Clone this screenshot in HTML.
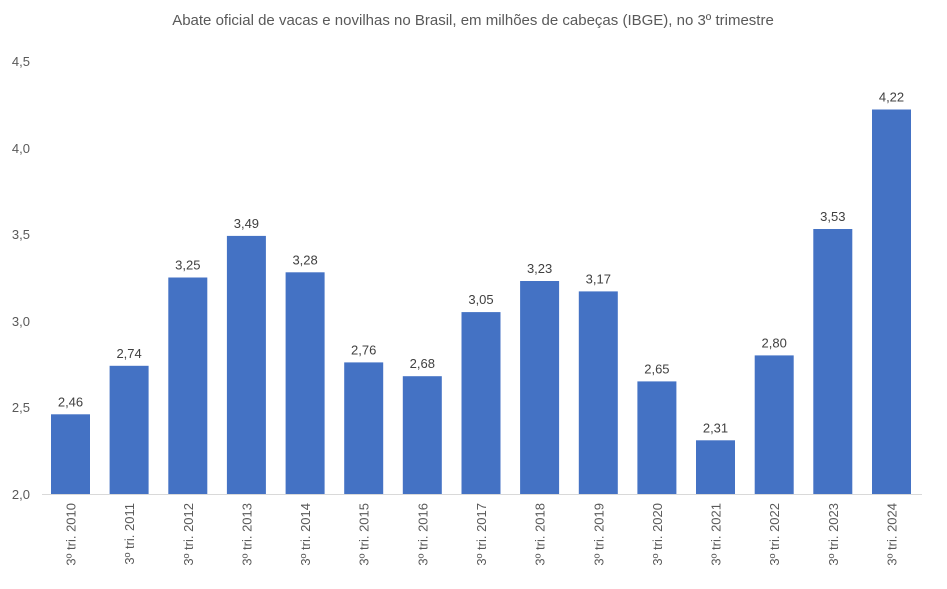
<!DOCTYPE html>
<html><head><meta charset="utf-8"><style>body{margin:0;background:#fff}svg{display:block;font-family:"Liberation Sans",sans-serif}</style></head><body>
<svg width="947" height="589" xmlns="http://www.w3.org/2000/svg">
<rect width="947" height="589" fill="#fff"/>
<text x="473" y="25" text-anchor="middle" font-size="15" fill="#595959">Abate oficial de vacas e novilhas no Brasil, em milhões de cabeças (IBGE), no 3º trimestre</text>
<g font-size="13" fill="#595959" text-anchor="end">
<text x="30" y="499">2,0</text><text x="30" y="412">2,5</text><text x="30" y="326">3,0</text><text x="30" y="239">3,5</text><text x="30" y="153">4,0</text><text x="30" y="66">4,5</text>
</g>
<g fill="#4472C4">
<rect x="51" y="414.3" width="39" height="79.7"/>
<rect x="109.6" y="365.8" width="39" height="128.2"/>
<rect x="168.3" y="277.5" width="39" height="216.5"/>
<rect x="226.9" y="235.9" width="39" height="258.1"/>
<rect x="285.6" y="272.3" width="39" height="221.7"/>
<rect x="344.2" y="362.4" width="39" height="131.6"/>
<rect x="402.8" y="376.2" width="39" height="117.8"/>
<rect x="461.5" y="312.1" width="39" height="181.9"/>
<rect x="520.1" y="281" width="39" height="213"/>
<rect x="578.8" y="291.4" width="39" height="202.6"/>
<rect x="637.4" y="381.4" width="39" height="112.6"/>
<rect x="696" y="440.3" width="39" height="53.7"/>
<rect x="754.7" y="355.4" width="39" height="138.6"/>
<rect x="813.3" y="229" width="39" height="265"/>
<rect x="872" y="109.5" width="39" height="384.5"/>
</g>
<g font-size="13" fill="#404040" text-anchor="middle">
<text x="70.5" y="406.3">2,46</text>
<text x="129.1" y="357.8">2,74</text>
<text x="187.8" y="269.5">3,25</text>
<text x="246.4" y="227.9">3,49</text>
<text x="305.1" y="264.3">3,28</text>
<text x="363.7" y="354.4">2,76</text>
<text x="422.3" y="368.2">2,68</text>
<text x="481" y="304.1">3,05</text>
<text x="539.6" y="273">3,23</text>
<text x="598.3" y="283.4">3,17</text>
<text x="656.9" y="373.4">2,65</text>
<text x="715.5" y="432.3">2,31</text>
<text x="774.2" y="347.4">2,80</text>
<text x="832.8" y="221">3,53</text>
<text x="891.5" y="101.5">4,22</text>
</g>
<g font-size="13" fill="#595959" text-anchor="end">
<text transform="translate(75.5,503) rotate(-90)">3º tri. 2010</text>
<text transform="translate(134.1,503) rotate(-90)">3º tri. 2011</text>
<text transform="translate(192.8,503) rotate(-90)">3º tri. 2012</text>
<text transform="translate(251.4,503) rotate(-90)">3º tri. 2013</text>
<text transform="translate(310.1,503) rotate(-90)">3º tri. 2014</text>
<text transform="translate(368.7,503) rotate(-90)">3º tri. 2015</text>
<text transform="translate(427.3,503) rotate(-90)">3º tri. 2016</text>
<text transform="translate(486,503) rotate(-90)">3º tri. 2017</text>
<text transform="translate(544.6,503) rotate(-90)">3º tri. 2018</text>
<text transform="translate(603.3,503) rotate(-90)">3º tri. 2019</text>
<text transform="translate(661.9,503) rotate(-90)">3º tri. 2020</text>
<text transform="translate(720.5,503) rotate(-90)">3º tri. 2021</text>
<text transform="translate(779.2,503) rotate(-90)">3º tri. 2022</text>
<text transform="translate(837.8,503) rotate(-90)">3º tri. 2023</text>
<text transform="translate(896.5,503) rotate(-90)">3º tri. 2024</text>
</g>
<line x1="42" y1="494.5" x2="922" y2="494.5" stroke="#d9d9d9" stroke-width="1"/>
</svg>
</body></html>
